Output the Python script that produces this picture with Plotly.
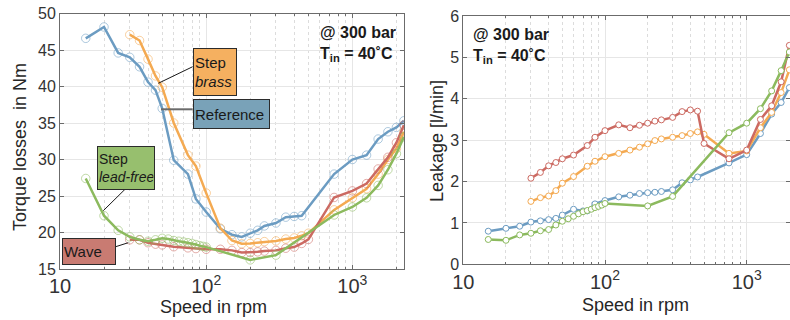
import plotly.graph_objects as go

W, H = 790, 320

# ---------------- data: torque losses (left) ----------------
ref_speed_t = [15, 20, 25, 30, 35, 40, 45, 50, 60, 75, 85, 100, 125, 150, 175, 200, 225, 250, 300, 350, 400, 450, 750, 1000, 1250, 1500, 1750, 2000, 2250]
ref_torque = [46.6, 48.15, 44.6, 44.0, 42.7, 40.6, 39.5, 37.0, 29.9, 28.0, 24.6, 22.8, 20.5, 19.7, 19.4, 19.9, 20.3, 20.9, 21.3, 22.1, 22.2, 22.3, 28.0, 30.0, 30.6, 32.8, 33.8, 34.4, 35.3]

brass_speed_t = [30, 35, 40, 45, 50, 60, 75, 85, 100, 125, 150, 175, 200, 225, 250, 300, 350, 400, 450, 500, 750, 1000, 1250, 1500, 1750, 2000, 2250]
brass_torque = [47.1, 46.3, 43.75, 41.45, 39.9, 35.0, 30.6, 29.1, 25.4, 20.6, 18.9, 18.45, 18.5, 18.6, 18.75, 18.85, 19.1, 19.25, 19.55, 19.9, 23.1, 24.75, 26.0, 28.0, 30.0, 31.5, 33.8]

wave_speed_t = [30, 35, 40, 45, 50, 60, 75, 85, 100, 125, 150, 175, 200, 225, 250, 300, 350, 400, 450, 500, 750, 1000, 1250, 1500, 1750, 2000, 2250]
wave_torque = [19.0, 19.0, 18.6, 18.4, 18.3, 18.05, 17.9, 17.8, 17.7, 17.7, 17.55, 17.25, 17.25, 17.35, 17.45, 17.55, 17.85, 18.0, 18.5, 19.05, 24.8, 25.7, 26.7, 28.7, 30.3, 32.3, 34.7]

lead_speed_t = [15, 20, 25, 30, 35, 40, 45, 50, 55, 60, 65, 70, 75, 80, 85, 90, 95, 100, 200, 300, 750, 1000, 1250, 1500, 1750, 2000, 2250]
lead_torque = [27.4, 22.3, 20.3, 19.4, 19.0, 18.8, 19.0, 19.2, 19.1, 18.9, 18.8, 18.7, 18.6, 18.5, 18.35, 18.2, 18.1, 18.0, 16.25, 16.9, 22.4, 23.5, 24.75, 26.45, 28.6, 30.8, 33.1]

# ---------------- data: leakage (right) ----------------
ref_speed_l = [15, 20, 25, 30, 35, 40, 45, 50, 60, 70, 75, 85, 100, 125, 150, 175, 200, 225, 250, 300, 350, 400, 450, 750, 1000, 1250, 1500, 1750, 2000]
ref_leak = [0.80, 0.87, 0.92, 1.02, 1.05, 1.08, 1.11, 1.19, 1.33, 1.29, 1.29, 1.46, 1.54, 1.63, 1.67, 1.71, 1.73, 1.74, 1.76, 1.80, 1.97, 2.04, 2.11, 2.45, 2.65, 3.16, 3.63, 3.91, 4.27]

brass_speed_l = [30, 35, 40, 45, 50, 60, 75, 85, 100, 125, 150, 175, 200, 225, 250, 300, 350, 400, 450, 500, 750, 1000, 1250, 1500, 1750, 2000]
brass_leak = [1.52, 1.61, 1.65, 1.78, 1.96, 2.12, 2.37, 2.49, 2.60, 2.68, 2.76, 2.83, 2.91, 2.99, 3.03, 3.07, 3.11, 3.16, 3.20, 3.14, 2.68, 2.74, 3.30, 3.67, 4.15, 4.70]

wave_speed_l = [30, 35, 40, 45, 50, 60, 75, 85, 100, 125, 150, 175, 200, 225, 250, 300, 350, 400, 450, 500, 750, 1000, 1250, 1500, 1750, 2000]
wave_leak = [2.08, 2.22, 2.38, 2.46, 2.55, 2.64, 2.87, 3.07, 3.23, 3.37, 3.30, 3.36, 3.41, 3.46, 3.49, 3.55, 3.69, 3.73, 3.70, 2.92, 2.55, 2.76, 3.50, 3.83, 4.41, 5.29]

lead_speed_l = [15, 20, 25, 30, 35, 40, 45, 50, 55, 60, 65, 70, 75, 80, 85, 90, 95, 100, 200, 300, 750, 1000, 1250, 1500, 1750, 2000]
lead_leak = [0.60, 0.58, 0.71, 0.75, 0.81, 0.84, 0.95, 1.04, 1.10, 1.16, 1.22, 1.27, 1.30, 1.33, 1.37, 1.40, 1.43, 1.47, 1.41, 1.64, 3.18, 3.41, 3.76, 4.19, 4.68, 5.13]

torque_ticks = [15, 20, 25, 30, 35, 40, 45, 50]
leak_ticks = [0, 1, 2, 3, 4, 5, 6]

# ---------------- styles ----------------
C_REF = "#6c9cc2"
C_BRASS = "#f4aa52"
C_WAVE = "#cc6a62"
C_LEAD = "#8cba5e"
C_REF_L = "rgba(108,156,194,0.55)"
C_BRASS_L = "rgba(244,170,82,0.55)"
C_WAVE_L = "rgba(204,106,98,0.55)"
C_LEAD_L = "rgba(140,186,94,0.55)"

FONT = "Arial, Liberation Sans, sans-serif"


def px2x(px):
    return px / W


def py2y(py):
    return 1 - py / H


fig = go.Figure()

left_series = [
    (ref_speed_t, ref_torque, C_REF, C_REF_L, "Reference"),
    (brass_speed_t, brass_torque, C_BRASS, C_BRASS_L, "Step brass"),
    (wave_speed_t, wave_torque, C_WAVE, C_WAVE_L, "Wave"),
    (lead_speed_t, lead_torque, C_LEAD, C_LEAD_L, "Step lead-free"),
]
for xs, ys, c, cl, name in left_series:
    fig.add_trace(go.Scatter(
        x=xs, y=ys, mode="lines+markers", name=name, xaxis="x", yaxis="y",
        line=dict(color=c, width=2.5),
        marker=dict(symbol="circle-open", size=8.5, color=cl, line=dict(width=1, color=cl)),
        showlegend=False, hoverinfo="skip"))

right_series = [
    (ref_speed_l, ref_leak, C_REF, "Reference"),
    (brass_speed_l, brass_leak, C_BRASS, "Step brass"),
    (wave_speed_l, wave_leak, C_WAVE, "Wave"),
    (lead_speed_l, lead_leak, C_LEAD, "Step lead-free"),
]
for xs, ys, c, name in right_series:
    fig.add_trace(go.Scatter(
        x=xs, y=ys, mode="lines+markers", name=name, xaxis="x2", yaxis="y2",
        line=dict(color=c, width=2.5),
        marker=dict(symbol="circle", size=6, color="white", line=dict(width=1, color=c)),
        showlegend=False, hoverinfo="skip"))

GRID = "#e6e6e6"
MINOR_GRID = "#dcdcdc"
AXLINE = "#6b6b6b"
TICKFONT = dict(family=FONT, size=16, color="#333333")


def xaxis_style(domain, rng, anchor):
    return dict(
        type="log", domain=domain, range=rng, anchor=anchor,
        dtick=1, exponentformat="power", showexponent="all",
        showgrid=True, gridcolor=GRID, gridwidth=1,
        showline=True, linecolor=AXLINE, linewidth=1, mirror="ticks",
        ticks="inside", ticklen=4, tickcolor=AXLINE,
        tickfont=TICKFONT, zeroline=False,
        minor=dict(dtick="D1", showgrid=True, gridcolor=MINOR_GRID, griddash="dot",
                   gridwidth=1, ticks="inside", ticklen=2, tickcolor=AXLINE),
        automargin=False, fixedrange=True,
    )


def yaxis_style(domain, rng, ticks, anchor):
    return dict(
        domain=domain, range=rng, anchor=anchor,
        tickmode="array", tickvals=ticks,
        showgrid=True, gridcolor=GRID, gridwidth=1,
        showline=True, linecolor=AXLINE, linewidth=1, mirror="ticks",
        ticks="inside", ticklen=4, tickcolor=AXLINE,
        tickfont=TICKFONT, zeroline=False,
        automargin=False, fixedrange=True,
    )


fig.update_layout(
    width=W, height=H,
    margin=dict(l=0, r=0, t=0, b=0, pad=0),
    paper_bgcolor="white", plot_bgcolor="white",
    font=dict(family=FONT, color="#262626"),
    xaxis=xaxis_style([px2x(60), px2x(404)], [1, 3.353], "y"),
    yaxis=yaxis_style([py2y(269), py2y(13.5)], [15, 50], torque_ticks, "x"),
    xaxis2=xaxis_style([px2x(463.3), 1.0], [1, 3.3056], "y2"),
    yaxis2=yaxis_style([py2y(264.3), py2y(16)], [0, 6], leak_ticks, "x2"),
)

shapes = []
# white boxes behind condition text (hide grid)
shapes.append(dict(type="rect", xref="paper", yref="paper", layer="between",
                   x0=px2x(315), x1=px2x(403.5), y0=py2y(59), y1=py2y(14),
                   fillcolor="white", line=dict(width=0)))
shapes.append(dict(type="rect", xref="paper", yref="paper", layer="between",
                   x0=px2x(464), x1=px2x(588), y0=py2y(68), y1=py2y(16.5),
                   fillcolor="white", line=dict(width=0)))
# leader lines for labels
leaders = [
    ((192.7, 66.7), (158.3, 83.3), "#1a1a1a", 1),
    ((192.7, 109.3), (161.0, 109.3), "#6b6b6b", 2),
    ((125.0, 189.3), (103.3, 210.7), "#1a1a1a", 1),
    ((115.7, 246.7), (128.3, 242.7), "#1a1a1a", 1),
]
for (x0, y0), (x1, y1), col, w in leaders:
    shapes.append(dict(type="line", xref="paper", yref="paper",
                       x0=px2x(x0), y0=py2y(y0), x1=px2x(x1), y1=py2y(y1),
                       line=dict(color=col, width=w)))
fig.update_layout(shapes=shapes)

ann = []
# label boxes: (left, top, right, bottom, text, fill, font size)
boxes = [
    (192.7, 48.3, 236.7, 96.0, "Step<br><i>brass</i>", "#f5b060", 15),
    (192.7, 99.0, 270.0, 129.3, "Reference", "#79a2b8", 15),
    (97.3, 145.7, 155.7, 189.3, "Step<br><i>lead-free</i>", "#97bf6e", 14),
    (61.7, 237.7, 115.7, 264.3, "Wave", "#c97b72", 15),
]
for l, t, r, b, txt, fill, fs in boxes:
    ann.append(dict(
        xref="paper", yref="paper", x=px2x(l), y=py2y(t), xanchor="left", yanchor="top",
        text=txt, showarrow=False, align="left", valign="middle",
        width=r - l - 4, height=b - t - 4, borderpad=1,
        bgcolor=fill, bordercolor="#2b2b2b", borderwidth=1,
        font=dict(family=FONT, size=fs, color="#1a1a1a")))

cond = "<b>@ 300 bar<br>T<sub>in</sub> = 40˚C</b>"
ann.append(dict(xref="paper", yref="paper", x=px2x(318), y=py2y(22), xanchor="left", yanchor="top",
                text=cond, showarrow=False, align="left",
                font=dict(family=FONT, size=16, color="#1a1a1a")))
ann.append(dict(xref="paper", yref="paper", x=px2x(471), y=py2y(24), xanchor="left", yanchor="top",
                text=cond, showarrow=False, align="left",
                font=dict(family=FONT, size=16, color="#1a1a1a")))

# axis titles
TITLEFONT = dict(family=FONT, size=18, color="#262626")
ann.append(dict(xref="paper", yref="paper", x=px2x(213), y=py2y(307), xanchor="center", yanchor="middle",
                text="Speed in rpm", showarrow=False, font=TITLEFONT))
ann.append(dict(xref="paper", yref="paper", x=px2x(635), y=py2y(305), xanchor="center", yanchor="middle",
                text="Speed in rpm", showarrow=False, font=TITLEFONT))
ann.append(dict(xref="paper", yref="paper", x=px2x(20), y=py2y(147), xanchor="center", yanchor="middle",
                text="Torque losses  in Nm", textangle=-90, showarrow=False, font=TITLEFONT))
ann.append(dict(xref="paper", yref="paper", x=px2x(437), y=py2y(141), xanchor="center", yanchor="middle",
                text="Leakage [l/min]", textangle=-90, showarrow=False, font=TITLEFONT))

fig.update_layout(annotations=ann)

fig.write_html("out.html", include_plotlyjs=True,
               config=dict(displayModeBar=False, staticPlot=True),
               post_script="document.body.style.margin='0px';document.body.style.overflow='hidden';")
